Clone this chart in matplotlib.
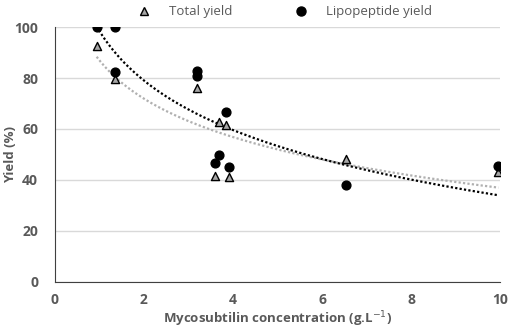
import numpy as np
import matplotlib
matplotlib.use('Agg')
import matplotlib.pyplot as plt
from matplotlib.lines import Line2D

# Mycosubtilin concentration (g/L)
total_x = [0.94, 1.35, 3.19, 3.69, 3.84, 3.6, 3.91, 6.54, 9.96]
total_y = [92.5, 79.8, 76.0, 62.7, 61.4, 41.6, 41.0, 48.2, 43.3]

lipo_x = [0.94, 1.35, 1.35, 3.19, 3.19, 3.84, 3.69, 3.6, 3.91, 6.54, 9.96]
lipo_y = [100.0, 100.0, 82.4, 82.9, 80.9, 66.5, 49.6, 46.7, 44.9, 38.2, 45.3]

grey = '#595959'
plt.rcParams['font.family'] = ['Open Sans', 'DejaVu Sans']


def log_fit(x, y):
    # logarithmic trendline: y = a*ln(x) + b
    a, b = np.polyfit(np.log(x), y, 1)
    return a, b


fig = plt.figure(figsize=(5.12, 3.34), dpi=100)
ax = fig.add_axes([0.107, 0.156, 0.870, 0.763])

xs = np.linspace(min(total_x), max(total_x), 200)
a, b = log_fit(total_x, total_y)
ax.plot(xs, a * np.log(xs) + b, color='#b0b0b0', ls=(0, (1, 1)), lw=1.6, zorder=2)
a, b = log_fit(lipo_x, lipo_y)
ax.plot(xs, a * np.log(xs) + b, color='black', ls=(0, (1, 1)), lw=1.6, zorder=2)

ax.scatter(total_x, total_y, marker='^', s=34, facecolor='#a6a6a6',
           edgecolor='black', linewidth=1.0, zorder=3)
ax.scatter(lipo_x, lipo_y, marker='o', s=40, color='black', zorder=4)

ax.set_xlim(0, 10)
ax.set_ylim(0, 100)
ax.set_xticks(range(0, 11, 2))
ax.set_yticks(range(0, 101, 20))
ax.grid(axis='y', color='#d9d9d9', lw=1)
ax.set_axisbelow(True)
for s in ['top', 'right']:
    ax.spines[s].set_visible(False)
ax.spines['left'].set_color('#404040')
ax.spines['bottom'].set_color('#404040')
ax.tick_params(length=0, labelsize=10, labelcolor=grey)
ax.tick_params(axis='y', pad=12)
ax.tick_params(axis='x', pad=8)
for lab in ax.get_xticklabels() + ax.get_yticklabels():
    lab.set_fontweight('bold')

ax.set_xlabel('Mycosubtilin concentration (g.L$^{-1}$)', fontsize=9.5,
              fontweight='bold', color=grey, labelpad=2)
ax.set_ylabel('Yield (%)', fontsize=9.5, fontweight='bold', color=grey)
ax.yaxis.set_label_coords(-0.085, 0.5)

handles = [
    Line2D([], [], marker='^', ls='none', markersize=6, markerfacecolor='#a6a6a6',
           markeredgecolor='black', label='Total yield'),
    Line2D([], [], marker='o', ls='none', markersize=6.5, color='black',
           label='Lipopeptide yield'),
]
fig.legend(handles=handles, loc='upper center', bbox_to_anchor=(0.55, 1.02), ncol=2,
           frameon=False, fontsize=9.5, labelcolor=grey, columnspacing=4.2,
           handletextpad=0.9)

fig.savefig('out.png', dpi=100)
